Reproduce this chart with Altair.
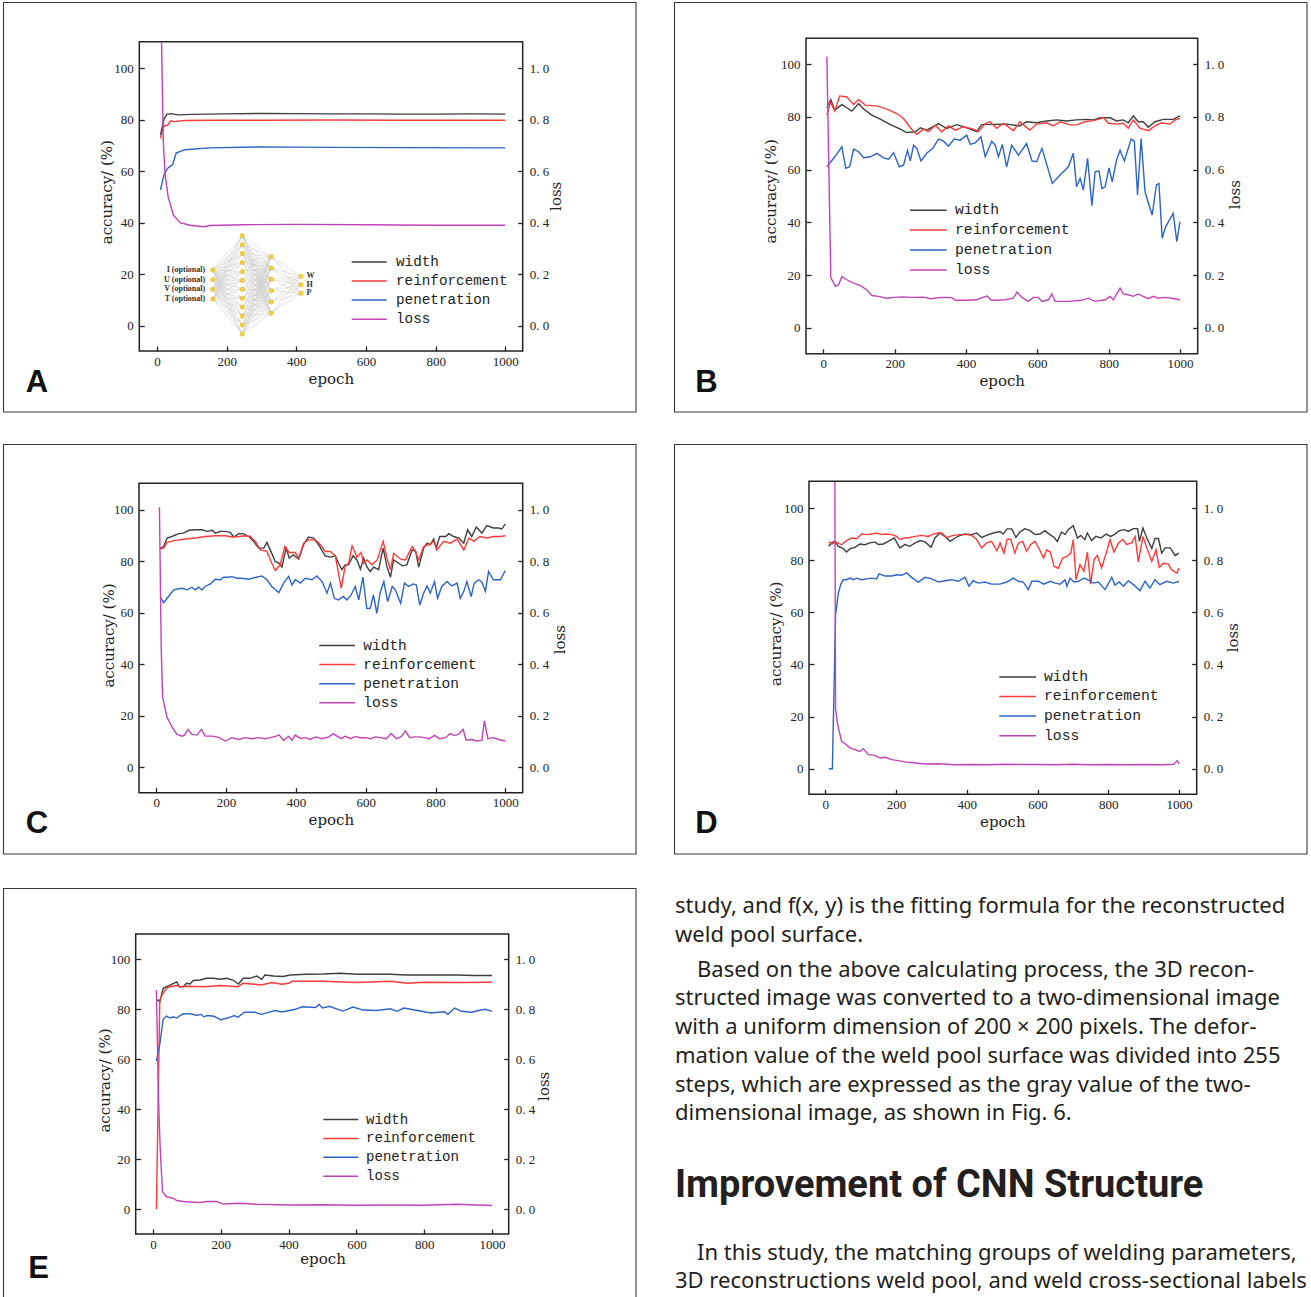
import altair as alt
import pandas as pd

W, H = 1311, 1297

SERIES = ["width", "reinforcement", "penetration", "loss"]
SERIES_COLORS = ["#3f3f3f", "#ff3a3a", "#2c64c8", "#c044b8"]
X_TICKS = [0, 200, 400, 600, 800, 1000]
ACC_TICKS = [0, 20, 40, 60, 80, 100]
LOSS_TICKS = [0.0, 0.2, 0.4, 0.6, 0.8, 1.0]

# ---------------- panel A ----------------
A_width = [(10, 74.0), (20, 80.0), (28, 82.0), (40, 82.3), (60, 81.8), (100, 82.0), (200, 82.2), (300, 82.4),
           (400, 82.3), (500, 82.2), (600, 82.2), (700, 82.1), (800, 82.1), (900, 82.2), (1000, 82.1)]
A_reinf = [(10, 72.7), (20, 77.5), (30, 77.7), (40, 79.5), (50, 79.2), (80, 79.6), (150, 79.7), (300, 79.7),
           (500, 79.8), (700, 79.7), (1000, 79.7)]
A_pen = [(10, 52.7), (20, 58.5), (30, 61.0), (45, 62.5), (55, 67.0), (80, 68.3), (150, 69.0), (300, 69.4),
         (500, 69.2), (700, 69.1), (1000, 69.0)]
A_loss = [(13, 1.10), (18, 0.72), (23, 0.59), (32, 0.50), (47, 0.43), (66, 0.40), (95, 0.39), (133, 0.384),
          (152, 0.389), (250, 0.392), (400, 0.393), (600, 0.392), (800, 0.390), (1000, 0.390)]

# ---------------- panel B ----------------
B_width = [(10, 83.5), (21, 86.6), (32, 82.6), (52, 84.7), (66, 83.5), (80, 82.2), (99, 85.1), (113, 83.0),
           (136, 80.7), (160, 79.2), (188, 77.1), (216, 75.4), (234, 74.1), (258, 74.4), (272, 75.9), (290, 75.0),
           (323, 77.5), (346, 75.6), (374, 77.1), (402, 75.9), (430, 74.4), (444, 77.1), (477, 77.2), (514, 77.3),
           (551, 76.6), (570, 78.2), (598, 77.8), (626, 78.5), (654, 78.9), (682, 78.5), (710, 78.9), (738, 79.1),
           (757, 78.9), (776, 79.7), (804, 79.7), (822, 78.5), (841, 78.9), (855, 77.8), (869, 80.4), (883, 78.2),
           (897, 78.2), (911, 76.1), (930, 78.2), (953, 79.1), (981, 79.1), (1000, 80.4)]
B_reinf = [(10, 80.7), (20, 85.7), (32, 82.2), (46, 88.0), (66, 87.6), (85, 84.7), (99, 86.6), (118, 84.5),
           (150, 84.2), (178, 83.0), (206, 81.3), (225, 79.4), (244, 75.9), (262, 73.4), (281, 75.4), (295, 74.4),
           (314, 76.9), (332, 74.4), (351, 76.6), (370, 75.0), (393, 76.3), (421, 75.4), (435, 74.4), (454, 77.5),
           (467, 78.2), (486, 75.7), (505, 77.6), (533, 74.8), (551, 78.2), (579, 75.0), (598, 77.3), (626, 77.8),
           (645, 76.6), (664, 78.2), (692, 77.0), (710, 77.0), (734, 78.2), (757, 78.6), (785, 79.7), (799, 77.6),
           (822, 77.3), (841, 77.6), (855, 75.7), (869, 78.9), (888, 75.7), (911, 74.8), (930, 76.6), (949, 77.8),
           (972, 77.3), (986, 78.9), (1000, 79.5)]
B_pen = [(10, 61.1), (30, 64.5), (52, 68.7), (63, 60.5), (74, 61.1), (85, 67.8), (99, 66.8), (113, 64.5),
         (132, 64.9), (150, 66.2), (169, 64.5), (183, 64.0), (197, 66.5), (213, 61.1), (225, 61.7), (236, 67.4),
         (244, 63.3), (253, 69.3), (262, 68.1), (274, 63.3), (290, 66.2), (307, 68.1), (323, 71.6), (337, 70.8),
         (351, 68.9), (367, 71.6), (384, 71.2), (402, 73.1), (412, 69.6), (426, 70.2), (442, 72.5), (454, 64.9),
         (472, 70.8), (482, 69.3), (491, 64.9), (502, 69.6), (514, 61.1), (528, 69.3), (547, 65.5), (570, 69.9),
         (585, 63.3), (598, 63.0), (613, 68.1), (642, 54.8), (659, 57.3), (673, 59.2), (687, 61.1), (701, 66.2),
         (710, 53.5), (720, 56.7), (729, 52.3), (741, 64.3), (753, 46.3), (762, 59.2), (773, 59.5), (781, 52.9),
         (790, 53.5), (801, 60.7), (810, 55.4), (822, 63.6), (832, 67.4), (844, 63.3), (863, 71.6), (872, 70.8),
         (881, 50.4), (891, 71.8), (902, 51.6), (913, 46.6), (922, 42.8), (934, 54.2), (941, 54.8), (950, 34.0),
         (960, 38.4), (981, 43.4), (991, 32.7), (1000, 40.3)]
B_loss = [(10, 1.03), (21, 0.19), (34, 0.157), (43, 0.163), (52, 0.194), (66, 0.182), (85, 0.169), (104, 0.16),
          (122, 0.144), (136, 0.122), (155, 0.119), (178, 0.112), (200, 0.115), (220, 0.117), (250, 0.115),
          (280, 0.116), (300, 0.11), (330, 0.115), (360, 0.114), (370, 0.104), (400, 0.104), (430, 0.106),
          (445, 0.114), (460, 0.12), (470, 0.105), (482, 0.104), (510, 0.106), (533, 0.112), (543, 0.135),
          (557, 0.115), (575, 0.10), (589, 0.115), (603, 0.115), (613, 0.10), (631, 0.106), (641, 0.128),
          (650, 0.10), (687, 0.10), (724, 0.104), (743, 0.112), (762, 0.10), (790, 0.106), (804, 0.119),
          (813, 0.106), (832, 0.15), (841, 0.128), (855, 0.125), (869, 0.119), (883, 0.128), (897, 0.119),
          (911, 0.11), (925, 0.119), (939, 0.112), (958, 0.115), (977, 0.112), (1000, 0.106)]

# ---------------- panel C ----------------
C_width = [(11, 85.1), (21, 85.7), (31, 89.0), (45, 89.6), (64, 90.7), (78, 90.9), (93, 92.0), (112, 92.2),
           (131, 92.2), (145, 91.6), (160, 92.0), (169, 90.9), (183, 91.6), (198, 91.6), (212, 91.2), (222, 89.4),
           (236, 90.7), (250, 90.6), (265, 89.6), (279, 87.7), (293, 85.1), (308, 85.1), (317, 87.3), (327, 84.2),
           (341, 79.9), (352, 79.2), (360, 77.7), (372, 85.1), (381, 81.2), (393, 82.5), (408, 80.8), (422, 86.4),
           (436, 89.4), (451, 89.0), (465, 86.4), (484, 82.1), (499, 81.6), (513, 82.1), (522, 79.2), (532, 76.7),
           (541, 78.6), (551, 78.6), (564, 82.1), (575, 80.5), (585, 76.9), (594, 81.2), (604, 77.7), (613, 76.0),
           (623, 77.7), (637, 76.7), (650, 85.1), (661, 77.9), (671, 73.8), (680, 80.5), (695, 79.2), (705, 78.2),
           (718, 78.6), (733, 84.4), (743, 83.8), (752, 77.7), (766, 85.1), (776, 87.0), (785, 86.4), (795, 88.6),
           (802, 85.1), (812, 89.6), (829, 89.6), (838, 90.7), (852, 89.6), (867, 89.0), (881, 87.0), (892, 92.2),
           (904, 89.6), (917, 93.3), (933, 90.9), (947, 93.8), (966, 92.9), (981, 92.9), (990, 92.5), (1000, 94.5)]
C_reinf = [(11, 84.7), (21, 85.1), (31, 87.3), (54, 88.1), (83, 88.6), (112, 89.0), (140, 89.6), (169, 89.9),
           (198, 89.9), (217, 89.4), (236, 89.6), (255, 89.9), (269, 89.6), (284, 87.7), (298, 84.4), (317, 83.8),
           (331, 79.2), (341, 76.4), (355, 78.6), (368, 85.7), (381, 83.4), (398, 83.4), (408, 81.2), (422, 87.0),
           (436, 88.3), (456, 88.3), (470, 86.4), (484, 83.8), (499, 83.8), (513, 82.0), (530, 69.5), (541, 78.0),
           (551, 79.2), (561, 86.0), (575, 81.6), (587, 83.4), (594, 79.2), (604, 80.5), (618, 78.6), (633, 80.5),
           (650, 87.7), (661, 81.2), (671, 76.7), (680, 83.1), (700, 80.8), (714, 80.5), (733, 85.7), (743, 83.8),
           (752, 80.5), (766, 85.7), (781, 86.4), (795, 87.7), (804, 84.4), (823, 87.7), (842, 87.0), (862, 88.6),
           (881, 84.4), (896, 89.0), (910, 87.7), (927, 89.6), (947, 89.0), (966, 89.6), (986, 89.6), (1000, 89.9)]
C_pen = [(11, 66.3), (21, 63.9), (35, 66.3), (50, 68.9), (74, 69.5), (88, 68.9), (102, 69.9), (112, 68.9),
         (121, 69.9), (131, 68.9), (140, 70.2), (155, 71.2), (169, 73.0), (183, 72.8), (193, 73.8), (207, 73.8),
         (217, 74.0), (231, 73.4), (245, 73.4), (265, 73.0), (284, 73.7), (303, 74.3), (317, 72.8), (331, 70.2),
         (351, 67.8), (365, 71.5), (379, 74.1), (389, 70.8), (398, 72.8), (413, 71.5), (427, 73.4), (446, 72.8),
         (460, 74.3), (475, 72.1), (489, 67.6), (499, 71.5), (510, 65.6), (522, 65.0), (536, 66.3), (546, 65.0),
         (558, 66.9), (570, 70.2), (580, 65.0), (592, 73.8), (603, 61.7), (613, 61.7), (622, 66.9), (632, 59.8),
         (641, 67.6), (652, 72.1), (663, 64.3), (676, 70.2), (685, 68.9), (700, 63.7), (711, 71.5), (723, 70.2),
         (736, 71.2), (745, 70.8), (755, 63.0), (766, 67.6), (776, 70.4), (785, 67.6), (797, 72.1), (806, 65.6),
         (818, 70.2), (833, 72.1), (847, 70.4), (862, 71.5), (871, 65.6), (881, 68.3), (890, 72.1), (902, 66.3),
         (911, 71.5), (924, 72.8), (933, 71.9), (943, 68.3), (952, 76.0), (966, 72.8), (986, 72.8), (1000, 76.4)]
C_loss = [(9, 1.01), (14, 0.468), (18, 0.274), (26, 0.222), (31, 0.193), (45, 0.157), (59, 0.128), (74, 0.121),
          (81, 0.125), (91, 0.147), (102, 0.128), (117, 0.125), (129, 0.147), (140, 0.121), (160, 0.121),
          (179, 0.116), (198, 0.102), (217, 0.115), (236, 0.108), (255, 0.115), (274, 0.111), (293, 0.115),
          (312, 0.111), (327, 0.115), (341, 0.12), (352, 0.125), (365, 0.105), (379, 0.12), (389, 0.105),
          (398, 0.125), (413, 0.112), (427, 0.115), (441, 0.108), (456, 0.118), (475, 0.111), (494, 0.118),
          (508, 0.131), (513, 0.125), (530, 0.111), (541, 0.12), (557, 0.111), (570, 0.12), (585, 0.115),
          (600, 0.115), (614, 0.111), (628, 0.118), (642, 0.115), (659, 0.111), (673, 0.131), (688, 0.111),
          (701, 0.118), (714, 0.141), (726, 0.115), (740, 0.118), (755, 0.118), (768, 0.115), (783, 0.111),
          (797, 0.124), (812, 0.111), (829, 0.115), (842, 0.131), (854, 0.124), (866, 0.128), (879, 0.147),
          (888, 0.105), (904, 0.108), (919, 0.102), (933, 0.105), (940, 0.18), (950, 0.111), (966, 0.115),
          (981, 0.108), (1000, 0.102)]

# ---------------- panel D ----------------
D_width = [(10, 85.3), (18, 86.6), (27, 87.2), (37, 85.3), (51, 84.4), (60, 83.1), (70, 84.4), (84, 84.9),
           (98, 86.2), (112, 85.9), (126, 86.6), (140, 87.0), (150, 86.0), (164, 86.2), (178, 87.2), (195, 88.5),
           (211, 84.7), (225, 86.0), (239, 85.3), (254, 86.6), (268, 87.5), (282, 87.0), (299, 84.9), (310, 88.5),
           (324, 90.4), (338, 89.1), (353, 87.2), (367, 88.5), (381, 89.5), (395, 90.0), (414, 89.8), (428, 90.4),
           (442, 88.7), (456, 89.5), (475, 90.4), (494, 91.0), (503, 90.0), (514, 92.0), (527, 92.0), (539, 88.7),
           (550, 90.8), (564, 92.0), (579, 91.3), (593, 89.8), (607, 90.0), (621, 91.3), (633, 90.0), (647, 88.7),
           (656, 87.2), (668, 90.8), (678, 89.8), (687, 91.7), (701, 93.2), (713, 88.5), (722, 89.5), (734, 87.9),
           (741, 90.4), (753, 87.5), (765, 89.1), (779, 88.5), (794, 90.0), (807, 89.1), (819, 90.0), (831, 91.3),
           (845, 91.7), (857, 91.0), (871, 92.1), (883, 92.1), (888, 87.2), (898, 92.3), (909, 88.5), (923, 84.4),
           (932, 88.3), (942, 88.3), (951, 82.7), (961, 84.7), (975, 84.7), (989, 81.8), (1000, 82.7)]
D_reinf = [(10, 87.0), (20, 86.2), (29, 87.0), (46, 85.9), (60, 87.5), (74, 88.5), (89, 88.2), (103, 90.0),
           (117, 89.8), (131, 90.0), (145, 90.4), (159, 89.8), (173, 90.0), (188, 89.8), (202, 89.1), (211, 87.9),
           (225, 88.5), (239, 88.7), (254, 89.1), (272, 89.5), (291, 89.1), (305, 90.0), (320, 90.4), (329, 90.4),
           (343, 88.7), (362, 89.5), (381, 89.8), (400, 89.8), (414, 89.5), (428, 87.9), (442, 84.7), (456, 86.6),
           (470, 87.2), (485, 83.6), (494, 86.6), (505, 82.7), (514, 88.0), (524, 88.0), (536, 82.7), (546, 86.6),
           (558, 87.2), (569, 83.4), (581, 86.0), (593, 87.2), (606, 84.0), (617, 80.8), (626, 84.0), (636, 83.1),
           (647, 77.6), (659, 76.9), (671, 80.8), (683, 81.4), (694, 82.7), (701, 87.9), (709, 72.5), (720, 78.3),
           (731, 75.7), (741, 83.1), (750, 70.8), (760, 80.2), (769, 81.8), (781, 77.0), (794, 82.7), (805, 87.9),
           (816, 83.1), (829, 86.6), (841, 87.9), (852, 86.0), (866, 86.6), (876, 89.1), (885, 79.3), (898, 89.1),
           (909, 84.7), (923, 79.5), (935, 84.0), (944, 77.2), (956, 78.8), (970, 78.5), (979, 76.3), (994, 75.0),
           (1000, 77.0)]
D_pen = [(10, 0.0), (20, 0.0), (29, 59.0), (37, 67.4), (44, 70.8), (51, 72.5), (60, 72.5), (70, 73.1),
         (79, 72.5), (89, 73.1), (103, 72.5), (117, 72.8), (131, 73.1), (145, 72.8), (152, 74.7), (169, 73.9),
         (188, 73.9), (202, 74.4), (216, 74.2), (230, 75.1), (244, 73.4), (263, 71.6), (282, 73.4), (301, 72.8),
         (320, 71.6), (338, 72.1), (357, 72.5), (376, 71.9), (395, 73.4), (406, 70.0), (418, 72.1), (433, 71.2),
         (451, 71.6), (470, 70.8), (494, 70.8), (513, 71.6), (532, 73.1), (546, 71.9), (560, 71.6), (574, 68.7),
         (584, 71.9), (603, 71.9), (617, 70.8), (636, 71.9), (650, 71.2), (664, 70.8), (678, 72.5), (683, 70.0),
         (692, 73.1), (703, 71.6), (716, 71.9), (732, 73.1), (747, 72.1), (758, 71.2), (772, 71.6), (791, 68.7),
         (810, 73.4), (819, 70.4), (831, 71.6), (843, 70.0), (857, 72.1), (871, 70.6), (890, 68.3), (904, 71.9),
         (918, 69.3), (932, 72.5), (946, 70.6), (965, 71.9), (984, 71.2), (1000, 71.9)]
D_loss = [(27, 1.10), (29, 0.23), (35, 0.169), (46, 0.105), (60, 0.092), (70, 0.079), (84, 0.073), (98, 0.066),
          (107, 0.077), (122, 0.054), (140, 0.051), (155, 0.041), (169, 0.044), (188, 0.035), (206, 0.031),
          (225, 0.026), (254, 0.022), (282, 0.018), (320, 0.019), (367, 0.015), (414, 0.016), (461, 0.015),
          (508, 0.017), (560, 0.016), (600, 0.016), (650, 0.015), (700, 0.017), (750, 0.015), (800, 0.016),
          (850, 0.015), (900, 0.016), (950, 0.015), (985, 0.017), (995, 0.031), (1000, 0.018)]

# ---------------- panel E ----------------
E_width = [(10, 83.5), (15, 83.7), (20, 83.0), (30, 88.4), (50, 89.7), (70, 91.0), (78, 89.0), (89, 89.0),
           (99, 90.4), (109, 90.1), (119, 91.5), (139, 91.7), (158, 92.4), (178, 92.4), (197, 92.0), (217, 92.4),
           (236, 91.7), (252, 90.1), (266, 92.4), (286, 92.4), (306, 93.3), (321, 92.0), (330, 93.7), (355, 93.3),
           (384, 93.1), (404, 93.7), (453, 94.0), (502, 94.1), (552, 94.4), (601, 94.0), (650, 94.0), (699, 94.0),
           (748, 93.7), (797, 93.7), (846, 93.7), (896, 93.7), (945, 93.5), (1000, 93.5)]
E_reinf = [(10, 0.0), (20, 83.7), (30, 86.5), (40, 88.5), (50, 89.0), (70, 89.5), (80, 89.0), (100, 89.2),
           (150, 89.0), (200, 89.5), (250, 89.0), (265, 90.4), (300, 90.0), (320, 89.7), (350, 90.7), (380, 90.0),
           (400, 90.4), (410, 91.2), (500, 91.2), (600, 90.7), (700, 91.2), (750, 90.4), (800, 90.8), (900, 90.7),
           (1000, 90.8)]
E_pen = [(10, 59.3), (20, 66.0), (30, 76.0), (40, 77.3), (50, 76.5), (60, 77.0), (70, 76.5), (80, 77.5),
         (90, 78.2), (110, 78.2), (130, 77.5), (140, 78.0), (150, 77.0), (160, 77.5), (180, 77.2), (200, 75.8),
         (220, 76.5), (240, 77.5), (250, 76.8), (270, 78.8), (300, 78.8), (320, 78.0), (360, 79.5), (380, 78.9),
         (420, 80.0), (440, 81.0), (480, 80.7), (490, 81.9), (500, 80.5), (520, 81.2), (560, 79.3), (590, 80.9),
         (620, 79.7), (660, 79.5), (700, 80.2), (720, 79.2), (740, 80.5), (780, 79.5), (820, 78.5), (860, 79.0),
         (870, 78.0), (890, 80.5), (910, 79.2), (940, 78.8), (960, 79.5), (980, 80.0), (1000, 79.2)]
E_loss = [(10, 0.877), (16, 0.45), (21, 0.25), (28, 0.07), (40, 0.05), (60, 0.044), (70, 0.035), (89, 0.031),
          (139, 0.027), (158, 0.031), (188, 0.031), (207, 0.021), (257, 0.024), (306, 0.02), (404, 0.017),
          (500, 0.018), (601, 0.016), (700, 0.017), (797, 0.016), (896, 0.02), (1000, 0.015)]

# ---------------- inset network (panel A) ----------------
INSET_LAYER_SIZES = [4, 12, 6, 3]
INSET_INPUT_LABELS = ["I (optional)", "U (optional)", "V (optional)", "T (optional)"]
INSET_OUTPUT_LABELS = ["W", "H", "P"]

# ---------------- page text ----------------
BODY_LINES = [
    "study, and f(x, y) is the fitting formula for the reconstructed",
    "weld pool surface.",
    "Based on the above calculating process, the 3D recon-",
    "structed image was converted to a two-dimensional image",
    "with a uniform dimension of 200 \u00d7 200 pixels. The defor-",
    "mation value of the weld pool surface was divided into 255",
    "steps, which are expressed as the gray value of the two-",
    "dimensional image, as shown in Fig. 6.",
    "In this study, the matching groups of welding parameters,",
    "3D reconstructions weld pool, and weld cross-sectional labels",
]
HEADING = "Improvement of CNN Structure"

# ---------------- layout (pixel geometry) ----------------
# legend: (line start, line end, first row centre, row pitch, font size, label start, row correction)
PANELS = [
    dict(letter="A", outer=(3.5, 2.5, 636, 412), plot=(139.3, 41.7, 522.7, 351), xmap=(157.0, 505.3),
         ymap=(325.7, 68.0), acc=[("width", A_width), ("reinforcement", A_reinf), ("penetration", A_pen)],
         loss=A_loss, legend=(351.7, 386.7, 260.7, 19.2, 14.3, 396.0, 0.8),
         tleft=(106, 191.7), tbottom=(330.8, 378), tright=(555.5, 195.8), lpos=(37, 392)),
    dict(letter="B", outer=(674.5, 2.5, 1307, 412), plot=(806, 38.3, 1197.7, 353.7), xmap=(823.3, 1180.0),
         ymap=(327.7, 64.3), acc=[("width", B_width), ("reinforcement", B_reinf), ("penetration", B_pen)],
         loss=B_loss, legend=(910.0, 946.7, 209.0, 19.8, 14.7, 955.0, 1.2),
         tleft=(770.8, 190.8), tbottom=(1001.7, 380), tright=(1234.7, 194.2), lpos=(706.5, 392)),
    dict(letter="C", outer=(3.5, 444.5, 636, 854), plot=(139, 483.3, 522.7, 792.7), xmap=(156.3, 505.3),
         ymap=(767.3, 509.7), acc=[("width", C_width), ("reinforcement", C_reinf), ("penetration", C_pen)],
         loss=C_loss, legend=(319.3, 355.0, 644.3, 19.3, 14.5, 363.3, 0.7),
         tleft=(108.8, 635), tbottom=(330.8, 819.5), tright=(559.2, 639.2), lpos=(37, 833)),
    dict(letter="D", outer=(674.5, 444.5, 1307, 854), plot=(809, 481.3, 1196.7, 794.3), xmap=(825.3, 1179.0),
         ymap=(768.7, 508.0), acc=[("width", D_width), ("reinforcement", D_reinf), ("penetration", D_pen)],
         loss=D_loss, legend=(999.3, 1036.0, 675.7, 19.5, 14.7, 1044.0, 1.2),
         tleft=(775.8, 633.3), tbottom=(1002.3, 821.5), tright=(1232.5, 637.2), lpos=(706.5, 833)),
    dict(letter="E", outer=(3.5, 888.5, 636, 1310), plot=(135.7, 934, 508.7, 1234), xmap=(153.0, 492.0),
         ymap=(1209.3, 959.3), acc=[("width", E_width), ("reinforcement", E_reinf), ("penetration", E_pen)],
         loss=E_loss, legend=(323.3, 358.3, 1118.3, 19.0, 14.1, 366.0, 1.0),
         tleft=(104.2, 1080), tbottom=(322.5, 1258), tright=(543.3, 1085.8), lpos=(38.5, 1278)),
]

INK = "#222222"
AXIS_STYLE = dict(grid=False, domain=False, ticks=True, tickSize=5, tickWidth=1.3, tickColor=INK,
                  labelFont="Liberation Serif", labelFontSize=13, labelColor=INK, labelFlush=False,
                  labelOverlap=False, titleFont="DejaVu Serif", titleFontSize=15, titleFontWeight="normal",
                  titleColor=INK, titleAlign="center", titleBaseline="middle")


def ix():
    return alt.Scale(domain=[0, W], range=[0, W], nice=False, zero=False)


def iy():
    return alt.Scale(domain=[0, H], range=[0, H], nice=False, zero=False)


def panel_layers(p):
    left, top, right, bottom = p["plot"]
    x0, x1000 = p["xmap"]
    y0, y100 = p["ymap"]
    xs = alt.Scale(domain=[0, 1000], range=[x0, x1000], nice=False, zero=False)
    ys = alt.Scale(domain=[0, 100], range=[y0, y100], nice=False, zero=False)
    ls = alt.Scale(domain=[0, 1], range=[y0, y100], nice=False, zero=False)

    rows = [{"epoch": e, "value": v, "series": name} for name, pts in p["acc"] for e, v in pts]
    acc_df = pd.DataFrame(rows)
    loss_df = pd.DataFrame(p["loss"], columns=["epoch", "loss"])

    lx1, lx2, ly, pitch, fs, labx, corr = p["legend"]
    center = (lx1 + lx2) / 2.0
    length = lx2 - lx1
    legend = alt.Legend(title=None, orient="none", legendX=center - fs / 2.0, legendY=ly - fs / 2.0 + 1.2,
                        symbolType="M-4,0H4", symbolSize=(length / 4.0) ** 2, symbolStrokeWidth=1.5,
                        labelFont="Liberation Mono", labelFontSize=fs, labelColor=INK,
                        labelOffset=labx - center - fs / 2.0, rowPadding=pitch - fs - corr, padding=0)

    bx, by = p["tbottom"]
    lxx, lyy = p["tleft"]
    rx, ry = p["tright"]
    acc = alt.Chart(acc_df).mark_line(strokeWidth=1.4).encode(
        x=alt.X("epoch:Q", scale=xs,
                axis=alt.Axis(orient="bottom", offset=(bottom - 5) - H, values=X_TICKS, format="d",
                              labelPadding=4, title="epoch", titleX=bx, titleY=by - (bottom - 5), titleAngle=0,
                              **AXIS_STYLE)),
        y=alt.Y("value:Q", scale=ys,
                axis=alt.Axis(orient="left", offset=-(left + 5), values=ACC_TICKS, format="d", labelPadding=6,
                              title="accuracy/ (%)", titleX=lxx - (left + 5), titleY=lyy, titleAngle=270,
                              **AXIS_STYLE)),
        color=alt.Color("series:N", scale=alt.Scale(domain=SERIES, range=SERIES_COLORS), legend=legend),
    )
    loss = alt.Chart(loss_df).mark_line(strokeWidth=1.4, color=SERIES_COLORS[3]).encode(
        x=alt.X("epoch:Q", scale=xs, axis=None),
        y=alt.Y("loss:Q", scale=ls,
                axis=alt.Axis(orient="right", offset=(right - 5) - W, values=LOSS_TICKS, labelPadding=6.5,
                              labelExpr="replace(format(datum.value, '.1f'), '.', '. ')",
                              title="loss", titleX=rx - (right - 5), titleY=ry, titleAngle=270, **AXIS_STYLE)),
    )
    return [acc, loss]


layers = []

# frames
outer_df = pd.DataFrame([dict(zip(["x", "y", "x2", "y2"], p["outer"])) for p in PANELS])
plot_df = pd.DataFrame([dict(zip(["x", "y", "x2", "y2"], p["plot"])) for p in PANELS])
layers.append(alt.Chart(outer_df).mark_rect(fillOpacity=0, stroke="#3a3a3a", strokeWidth=1.1).encode(
    x=alt.X("x:Q", scale=ix(), axis=None), x2="x2:Q", y=alt.Y("y:Q", scale=iy(), axis=None), y2="y2:Q"))
layers.append(alt.Chart(plot_df).mark_rect(fillOpacity=0, stroke=INK, strokeWidth=1.5).encode(
    x=alt.X("x:Q", scale=ix(), axis=None), x2="x2:Q", y=alt.Y("y:Q", scale=iy(), axis=None), y2="y2:Q"))

# inset network in panel A
inset_x = [212.7, 242.3, 271.3, 301.0]
inset_span = [(270.0, 299.0), (235.7, 334.0), (256.7, 313.3), (276.3, 293.3)]
nodes = []
for li, n in enumerate(INSET_LAYER_SIZES):
    t, b = inset_span[li]
    for k in range(n):
        nodes.append({"layer": li, "k": k, "x": inset_x[li], "y": t + k * (b - t) / (n - 1)})
nodes_df = pd.DataFrame(nodes)
edges = []
for li in range(len(INSET_LAYER_SIZES) - 1):
    a = nodes_df[nodes_df.layer == li]
    b = nodes_df[nodes_df.layer == li + 1]
    for _, r1 in a.iterrows():
        for _, r2 in b.iterrows():
            edges.append({"x": r1.x, "y": r1.y, "x2": r2.x, "y2": r2.y})
edges_df = pd.DataFrame(edges)
layers.append(alt.Chart(edges_df).mark_rule(color="#c4c4c4", strokeWidth=0.45).encode(
    x=alt.X("x:Q", scale=ix(), axis=None), x2="x2:Q", y=alt.Y("y:Q", scale=iy(), axis=None), y2="y2:Q"))
layers.append(alt.Chart(nodes_df).mark_circle(size=20, color="#f2d23c", opacity=1,
                                              stroke="#d8b820", strokeWidth=0.5).encode(
    x=alt.X("x:Q", scale=ix(), axis=None), y=alt.Y("y:Q", scale=iy(), axis=None)))
in_nodes = nodes_df[nodes_df.layer == 0].reset_index(drop=True)
in_lab = pd.DataFrame({"x": in_nodes.x - 7.5, "y": in_nodes.y, "t": INSET_INPUT_LABELS})
layers.append(alt.Chart(in_lab).mark_text(align="right", baseline="middle", font="Liberation Serif",
                                          fontSize=8, fontWeight="bold", color="#333").encode(
    x=alt.X("x:Q", scale=ix(), axis=None), y=alt.Y("y:Q", scale=iy(), axis=None), text="t:N"))
out_nodes = nodes_df[nodes_df.layer == 3].reset_index(drop=True)
out_lab = pd.DataFrame({"x": out_nodes.x + 5.5, "y": out_nodes.y, "t": INSET_OUTPUT_LABELS})
layers.append(alt.Chart(out_lab).mark_text(align="left", baseline="middle", font="Liberation Serif",
                                           fontSize=8, fontWeight="bold", color="#333").encode(
    x=alt.X("x:Q", scale=ix(), axis=None), y=alt.Y("y:Q", scale=iy(), axis=None), text="t:N"))

# panels
for p in PANELS:
    layers.extend(panel_layers(p))

# panel letters
letters_df = pd.DataFrame({"t": [p["letter"] for p in PANELS], "x": [p["lpos"][0] for p in PANELS],
                           "y": [p["lpos"][1] for p in PANELS]})
layers.append(alt.Chart(letters_df).mark_text(align="center", baseline="alphabetic", font="Liberation Sans",
                                              fontWeight="bold", fontSize=31, color="#111").encode(
    x=alt.X("x:Q", scale=ix(), axis=None), y=alt.Y("y:Q", scale=iy(), axis=None), text="t:N"))

# body text
baselines = [913.3, 941.7, 976.7, 1005.3, 1034.0, 1062.7, 1091.7, 1120.3, 1260.0, 1288.3]
indented = {2, 8}
body_df = pd.DataFrame({"t": BODY_LINES,
                        "x": [675 + (22 if i in indented else 0) for i in range(len(BODY_LINES))],
                        "y": baselines})
layers.append(alt.Chart(body_df).mark_text(align="left", baseline="alphabetic", font="Noto Sans",
                                           fontSize=22, color="#231f20").encode(
    x=alt.X("x:Q", scale=ix(), axis=None), y=alt.Y("y:Q", scale=iy(), axis=None), text="t:N"))
head_df = pd.DataFrame({"t": [HEADING], "x": [675], "y": [1196.7]})
layers.append(alt.Chart(head_df).mark_text(align="left", baseline="alphabetic", font="Roboto",
                                           fontWeight="bold", fontSize=38, color="#231f20").encode(
    x=alt.X("x:Q", scale=ix(), axis=None), y=alt.Y("y:Q", scale=iy(), axis=None), text="t:N"))

chart = alt.layer(*layers).resolve_scale(
    x="independent", y="independent", color="independent"
).properties(
    width=W, height=H, padding=0, background="white",
    autosize=alt.AutoSizeParams(type="none"),
).configure_view(strokeWidth=0)

chart.save("out.html", embed_options={"renderer": "svg", "actions": False})
